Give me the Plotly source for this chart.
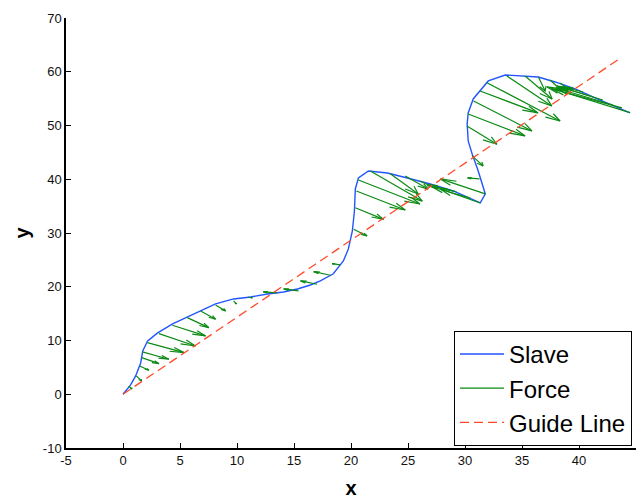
import numpy as np
import plotly.graph_objects as go

# ---- data ----
slave_x = [0, 0.67, 1.11, 1.55, 1.73, 2.16, 3.04, 4.35, 5.67, 6.81, 8.12, 9.7, 11.19, 12.68,
           14.08, 15.3, 16.44, 17.31, 18.45, 19.33, 19.77, 20.12, 20.3, 20.38, 20.65, 21.53,
           23.19, 24.94, 26.95, 28.97, 30.46, 31.34, 31.78, 31.16, 30.63, 30.28, 30.19, 30.28,
           30.72, 31.33, 32.04, 33.53, 35.02, 36.42, 37.91, 39.66, 41.41, 42.99, 44.48]
slave_y = [0, 1.73, 3.41, 5.82, 8.06, 9.92, 11.41, 13.08, 14.38, 15.5, 16.8, 17.73, 18.1, 18.66,
           19.03, 19.59, 20.33, 21.08, 22.41, 24.8, 27.04, 30.38, 34.1, 38.19, 40.24, 41.54,
           41.17, 40.24, 39.12, 37.82, 36.5, 35.59, 37.27, 41.54, 44.71, 47.13, 50.29, 52.34,
           54.94, 56.43, 58.29, 59.4, 59.22, 59.03, 58.1, 56.8, 55.12, 53.64, 52.34]

force_x = [0.5, 1.17, 1.46, 1.64, 1.7, 2.14, 3.15, 4.33, 5.64, 6.81, 8.12, 9.7, 11.0,
           13.5, 15.4, 17.03, 18.19, 19.07,
           20.24, 20.38, 20.47, 20.65, 21.7, 23.45, 24.76, 26.08,
           31.78, 31.34, 30.46, 28.97, 31.27, 30.63,
           30.17, 30.28, 30.75, 31.33, 31.92, 33.67, 35.27, 36.44, 37.46, 38.34,
           44.47, 43.77, 42.98, 42.1, 41.23, 40.36]
force_y = [1.5, 3.41, 5.27, 6.81, 7.87, 9.6, 11.27, 12.84, 14.25, 15.5, 16.61, 17.36, 18.1,
           18.85, 19.22, 20.47, 22.14, 24.06,
           30.7, 34.7, 37.81, 39.87, 41.52, 41.04, 40.59, 39.68,
           37.27, 35.59, 36.5, 37.82, 40.06, 44.34,
           49.92, 52.15, 54.57, 56.43, 57.97, 59.22, 59.22, 59.03, 58.47, 57.91,
           52.39, 53.27, 53.82, 54.75, 55.31, 56.24]
force_u = [0.3, 0.46, 0.81, 1.52, 2.33, 3.21, 3.21, 2.92, 1.89, 1.31, 0.88, 0.26, 0.35,
           -1.2, -1.31, -1.46, -1.46, -0.73,
           1.17, 2.48, 4.29, 5.4, 4.55, 2.45, 2.01, 1.05,
           -3.94, -3.5, -3.33, -2.19, -1.05, 0.96,
           2.63, 4.99, 5.12, 5.08, 6.42, 3.94, 2.37, 0.59, 1.05, 0.7,
           -7.27, -6.13, -4.99, -4.03, -2.89, -1.75]
force_v = [-0.5, -0.93, -0.8, -1.12, -1.36, -1.86, -2.29, -1.99, -1.86, -1.54, -1.12, -0.56, -0.19,
           0.2, 0.37, 0.61, 0.67, 0.24,
           -1.25, -2.16, -3.53, -4.47, -5.58, -3.78, -2.42, -1.12,
           2.79, 2.6, 2.05, 1.12, 0.19, -1.86,
           -3.41, -4.09, -5.58, -4.09, -7.13, -5.58, -4.28, -2.6, -2.05, -1.12,
           4.78, 3.53, 3.16, 2.6, 1.86, 0.93]

guide_x = [0, 43.4]
guide_y = [0, 62.2]

x_ticks = [-5, 0, 5, 10, 15, 20, 25, 30, 35, 40, 45]
x_tick_labels = ["-5", "0", "5", "10", "15", "20", "25", "30", "35", "40", "45"]
y_ticks = [-10, 0, 10, 20, 30, 40, 50, 60, 70]
y_tick_labels = ["-10", "0", "10", "20", "30", "40", "50", "60", "70"]

# ---- quiver (MATLAB-style heads in data units) ----
qx, qy = [], []
beta = 0.33
for x, y, u, v in zip(force_x, force_y, force_u, force_v):
    L = np.hypot(u, v)
    a = min(0.33, 1.4 / L) if L > 0 else 0.33
    tx, ty = x + u, y + v
    qx += [x, tx, None]
    qy += [y, ty, None]
    qx += [tx - a * (u + beta * v), tx, tx - a * (u - beta * v), None]
    qy += [ty - a * (v - beta * u), ty, ty - a * (v + beta * u), None]

fig = go.Figure()
fig.add_trace(go.Scatter(x=slave_x, y=slave_y, mode="lines", name="Slave",
                         line=dict(color="#2255ff", width=1.4), legendgroup="a"))
fig.add_trace(go.Scatter(x=qx, y=qy, mode="lines", name="Force",
                         line=dict(color="#0a8a14", width=1.2), legendgroup="b"))
fig.add_trace(go.Scatter(x=guide_x, y=guide_y, mode="lines", name="Guide Line",
                         line=dict(color="#ff4a2a", width=1.3, dash="9px,5px"), legendgroup="c"))

FONT = "Liberation Sans, Arial"
axis_common = dict(showgrid=False, zeroline=False, showline=True, linecolor="black",
                   linewidth=1.5, ticks="inside", ticklen=5, tickcolor="black",
                   tickfont=dict(family=FONT, size=13, color="#111"),
                   mirror=False)
fig.update_xaxes(range=[-5, 45], tickvals=x_ticks, ticktext=x_tick_labels,
                 title=dict(text="x", font=dict(family=FONT, size=20, color="black", weight="bold"),
                            standoff=14), **axis_common)
fig.update_yaxes(range=[-10, 70], tickvals=y_ticks, ticktext=y_tick_labels,
                 title=dict(text="y", font=dict(family=FONT, size=20, color="black", weight="bold"),
                            standoff=8), **axis_common)

fig.update_layout(
    width=640, height=499,
    margin=dict(l=66, r=4, t=18, b=51),
    paper_bgcolor="white", plot_bgcolor="white",
    showlegend=True,
    legend=dict(x=0.993, y=0.005, xanchor="right", yanchor="bottom",
                bgcolor="white", bordercolor="black", borderwidth=1,
                font=dict(family=FONT, size=24, color="black"),
                itemwidth=44, tracegroupgap=0, traceorder="grouped"),
)

fig.write_html("out.html")
